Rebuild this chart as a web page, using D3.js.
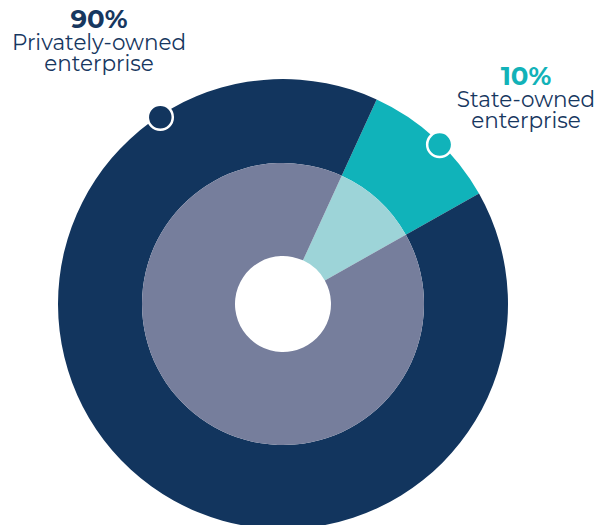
<!DOCTYPE html>
<html>
<head>
<meta charset="utf-8">
<script src="https://cdn.jsdelivr.net/npm/d3@7"></script>
<style>
  body { margin: 0; background: #fff; }
  svg { display: block; }
</style>
</head>
<body>
<div id="chart"></div>
<script>
// data
var categories = ['State-owned enterprise', 'Privately-owned enterprise'];
var shares = [10, 90];
var pctLabels = ['10%', '90%'];
var nameLines = [['State-owned', 'enterprise'], ['Privately-owned', 'enterprise']];

var width = 614, height = 525;
var cx = 283, cy = 304;
var outerR = 225, midR = 141, holeR = 48;
var startDeg = 24.6;

var outerColors = ['#10b3ba', '#12355e'];
var innerColors = ['#9dd4d8', '#767e9c'];
var textColors = ['#12b2b8', '#17375f'];

var svg = d3.select('#chart').append('svg')
  .attr('width', width)
  .attr('height', height);

var g = svg.append('g').attr('transform', 'translate(' + cx + ',' + cy + ')');

var pie = d3.pie()
  .sort(null)
  .value(function(d) { return d; })
  .startAngle(startDeg * Math.PI / 180)
  .endAngle(startDeg * Math.PI / 180 + 2 * Math.PI);

var arcs = pie(shares);

var outerArc = d3.arc().innerRadius(midR).outerRadius(outerR);
var innerArc = d3.arc().innerRadius(holeR).outerRadius(midR);

g.selectAll('.outer')
  .data(arcs)
  .enter()
  .append('path')
  .attr('class', 'outer')
  .attr('d', outerArc)
  .attr('fill', function(d, i) { return outerColors[i]; });

g.selectAll('.inner')
  .data(arcs)
  .enter()
  .append('path')
  .attr('class', 'inner')
  .attr('d', innerArc)
  .attr('fill', function(d, i) { return innerColors[i]; });

// marker dots on the outer edge (angles in degrees from 12 o'clock)
var markerDeg = [44.5, -33.3];
g.selectAll('.marker')
  .data(markerDeg)
  .enter()
  .append('circle')
  .attr('class', 'marker')
  .attr('cx', function(d) { return (outerR - 1.5) * Math.sin(d * Math.PI / 180); })
  .attr('cy', function(d) { return -(outerR - 1.5) * Math.cos(d * Math.PI / 180); })
  .attr('r', 12.5)
  .attr('fill', function(d, i) { return outerColors[i]; })
  .attr('stroke', '#fff')
  .attr('stroke-width', 2.5);

// labels
var labelPos = [[526, 85], [99, 28]];
var font = 'Montserrat, "Open Sans", sans-serif';

svg.selectAll('.pct')
  .data(pctLabels)
  .enter()
  .append('text')
  .attr('class', 'pct')
  .attr('text-anchor', 'middle')
  .attr('font-family', font)
  .attr('x', function(d, i) { return labelPos[i][0]; })
  .attr('y', function(d, i) { return labelPos[i][1]; })
  .attr('font-size', 26)
  .attr('font-weight', 'bold')
  .attr('fill', function(d, i) { return textColors[i]; })
  .text(function(d) { return d; });

categories.forEach(function(c, i) {
  svg.selectAll('.name' + i)
    .data(nameLines[i])
    .enter()
    .append('text')
    .attr('class', 'name' + i)
    .attr('text-anchor', 'middle')
    .attr('font-family', font)
    .attr('x', labelPos[i][0])
    .attr('y', function(d, j) { return labelPos[i][1] + 22 + j * 21; })
    .attr('font-size', 21.5)
    .attr('fill', '#17375f')
    .text(function(d) { return d; });
});
</script>
</body>
</html>
